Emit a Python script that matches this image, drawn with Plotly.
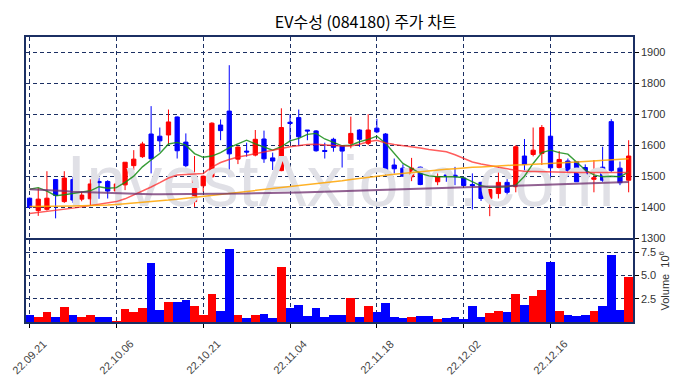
import plotly.graph_objects as go

dates = (
    ["2022-09-%02d" % d for d in [21, 22, 23, 26, 27, 28, 29, 30]]
    + ["2022-10-%02d" % d for d in [4, 5, 6, 7, 11, 12, 13, 14, 17, 18, 19, 20, 21, 24, 25, 26, 27, 28, 31]]
    + ["2022-11-%02d" % d for d in [1, 2, 3, 4, 7, 8, 9, 10, 11, 14, 15, 16, 17, 18, 21, 22, 23, 24, 25, 28, 29, 30]]
    + ["2022-12-%02d" % d for d in [1, 2, 5, 6, 7, 8, 9, 12, 13, 14, 15, 16, 19, 20, 21, 22, 23, 26, 27, 28, 29]]
)

opens = [1430, 1390, 1394, 1490, 1419, 1490, 1427, 1428, 1484, 1484,
         1453, 1473, 1535, 1564, 1637, 1630, 1634, 1692, 1611, 1419,
         1470, 1499, 1666, 1711, 1556, 1582, 1569, 1621, 1560, 1519,
         1675, 1690, 1650, 1647, 1584, 1620, 1598, 1607, 1650, 1607,
         1656, 1637, 1537, 1527, 1499, 1530, 1492, 1483, 1505, 1504,
         1495, 1474, 1481, 1429, 1445, 1481, 1467, 1566, 1571, 1574,
         1630, 1529, 1550, 1548, 1529, 1491, 1530, 1677, 1527, 1488]
highs = [1432, 1464, 1517, 1491, 1517, 1499, 1451, 1491, 1496, 1488,
         1483, 1546, 1585, 1612, 1727, 1658, 1716, 1694, 1639, 1566,
         1503, 1675, 1684, 1859, 1597, 1609, 1650, 1648, 1577, 1720,
         1700, 1716, 1650, 1650, 1609, 1625, 1600, 1693, 1652, 1701,
         1686, 1640, 1558, 1539, 1560, 1532, 1499, 1510, 1515, 1531,
         1497, 1510, 1483, 1460, 1531, 1494, 1601, 1621, 1658, 1666,
         1709, 1582, 1558, 1550, 1539, 1553, 1596, 1685, 1548, 1617]
lows = [1398, 1373, 1390, 1365, 1415, 1415, 1420, 1408, 1428, 1429,
        1450, 1456, 1520, 1560, 1510, 1580, 1603, 1558, 1530, 1402,
        1451, 1497, 1617, 1499, 1540, 1564, 1565, 1544, 1521, 1517,
        1610, 1598, 1617, 1580, 1558, 1580, 1529, 1591, 1596, 1601,
        1640, 1505, 1510, 1499, 1485, 1472, 1440, 1472, 1483, 1472,
        1470, 1394, 1421, 1372, 1429, 1432, 1449, 1510, 1565, 1537,
        1499, 1525, 1499, 1483, 1480, 1449, 1483, 1515, 1472, 1449]
closes = [1400, 1427, 1430, 1439, 1495, 1424, 1440, 1476, 1480, 1453,
          1476, 1546, 1556, 1605, 1557, 1615, 1676, 1583, 1535, 1501,
          1501, 1672, 1648, 1573, 1595, 1579, 1620, 1557, 1550, 1658,
          1671, 1628, 1647, 1583, 1581, 1594, 1582, 1639, 1620, 1650,
          1644, 1521, 1525, 1501, 1527, 1474, 1483, 1499, 1500, 1499,
          1471, 1471, 1429, 1458, 1481, 1449, 1596, 1539, 1585, 1658,
          1528, 1555, 1519, 1483, 1483, 1496, 1488, 1519, 1480, 1566]
volumes_m = [0.75, 0.60, 1.07, 0.60, 1.60, 0.75, 0.54, 0.75, 0.54, 0.60,
             0.18, 1.40, 1.10, 1.50, 6.43, 1.29, 2.14, 2.14, 2.46, 1.71,
             0.75, 3.00, 1.18, 7.93, 0.75, 0.43, 0.75, 0.86, 0.43, 6.00,
             1.50, 1.82, 0.64, 1.50, 0.54, 0.75, 0.75, 2.57, 0.54, 1.71,
             1.07, 2.04, 0.54, 0.43, 0.54, 0.64, 0.64, 0.32, 0.43, 0.54,
             0.32, 1.71, 0.54, 0.96, 1.18, 1.07, 3.00, 1.82, 2.79, 3.43,
             6.54, 1.18, 0.75, 0.64, 0.75, 1.18, 1.71, 7.29, 1.29, 4.93]
ma5 = [1459, 1464, 1453, 1438, 1441, 1446, 1451, 1454, 1467, 1462,
       1464, 1481, 1501, 1531, 1553, 1574, 1605, 1610, 1601, 1574,
       1562, 1566, 1577, 1593, 1605, 1617, 1605, 1594, 1585, 1596,
       1615, 1623, 1636, 1639, 1621, 1610, 1599, 1601, 1612, 1620,
       1630, 1607, 1574, 1542, 1526, 1510, 1502, 1499, 1499, 1499,
       1496, 1483, 1470, 1465, 1465, 1467, 1472, 1501, 1542, 1577,
       1585, 1577, 1572, 1545, 1521, 1505, 1499, 1501, 1499, 1515]
ma20 = [1381, 1384, 1387, 1391, 1395, 1398, 1402, 1406, 1410, 1414,
        1419, 1428, 1440, 1452, 1466, 1480, 1495, 1505, 1506, 1507,
        1510, 1530, 1545, 1555, 1563, 1568, 1573, 1578, 1584, 1590,
        1596, 1600, 1603, 1604, 1601, 1600, 1598, 1598, 1604, 1612,
        1617, 1608, 1603, 1600, 1597, 1592, 1587, 1583, 1580, 1570,
        1558, 1547, 1540, 1535, 1530, 1523, 1520, 1517, 1516, 1515,
        1515, 1514, 1513, 1513, 1513, 1513, 1513, 1513, 1513, 1513]
ma60 = [1403, 1403, 1404, 1404, 1405, 1405, 1406, 1406, 1407, 1408,
        1410, 1412, 1414, 1417, 1419, 1422, 1424, 1427, 1430, 1433,
        1436, 1439, 1442, 1445, 1448, 1451, 1454, 1457, 1460, 1463,
        1466, 1469, 1472, 1475, 1478, 1482, 1486, 1490, 1494, 1498,
        1502, 1504, 1507, 1510, 1512, 1515, 1518, 1520, 1523, 1525,
        1528, 1530, 1531, 1533, 1534, 1535, 1537, 1538, 1539, 1541,
        1542, 1544, 1545, 1547, 1549, 1550, 1552, 1554, 1555, 1557]
ma120 = [1459, 1458, 1456, 1455, 1453, 1451, 1450, 1449, 1448, 1446,
         1445, 1445, 1444, 1444, 1443, 1443, 1443, 1443, 1443, 1443,
         1444, 1444, 1444, 1445, 1445, 1445, 1446, 1446, 1447, 1447,
         1448, 1448, 1449, 1450, 1451, 1452, 1453, 1454, 1455, 1456,
         1457, 1457, 1458, 1459, 1460, 1461, 1462, 1463, 1464, 1465,
         1466, 1467, 1467, 1468, 1468, 1469, 1469, 1470, 1471, 1471,
         1472, 1473, 1474, 1475, 1476, 1477, 1478, 1479, 1480, 1482]
tick_dates = ["2022-09-21", "2022-10-06", "2022-10-21", "2022-11-04",
              "2022-11-18", "2022-12-02", "2022-12-16"]
price_ticks = [1300, 1400, 1500, 1600, 1700, 1800, 1900]
vol_ticks = [2.5, 5.0, 7.5]

UP = "#ff0000"
DOWN = "#0000ff"
NAVY = "#1b2f63"

x = list(range(len(dates)))
tickvals = [dates.index(d) for d in tick_dates]
ticktext = [d[2:].replace("-", ".") for d in tick_dates]
bar_colors = [UP if c > o else DOWN for o, c in zip(opens, closes)]

fig = go.Figure()

# watermark (behind candles)
fig.add_trace(go.Scatter(
    x=[35.8], y=[1462], mode="text", text=["InvestAxiom.com"],
    textfont=dict(family="Liberation Sans, Arial", size=72, color="#e0e0e6"),
    textposition="middle center", hoverinfo="skip", showlegend=False,
    xaxis="x", yaxis="y"))

fig.add_trace(go.Candlestick(
    x=x, open=opens, high=highs, low=lows, close=closes,
    increasing=dict(line=dict(color=UP, width=1), fillcolor=UP),
    decreasing=dict(line=dict(color=DOWN, width=1), fillcolor=DOWN),
    whiskerwidth=0, showlegend=False, xaxis="x", yaxis="y"))

for vals, col, w in [(ma5, "rgba(20,140,20,0.85)", 1.4),
                     (ma20, "rgba(255,30,30,0.72)", 1.5),
                     (ma60, "rgba(255,165,0,0.85)", 1.5),
                     (ma120, "rgba(110,45,110,0.75)", 2)]:
    fig.add_trace(go.Scatter(x=x, y=vals, mode="lines",
                             line=dict(color=col, width=w),
                             showlegend=False, hoverinfo="skip",
                             xaxis="x", yaxis="y"))

fig.add_trace(go.Bar(x=x, y=volumes_m, marker=dict(color=bar_colors, line=dict(width=0)),
                     width=1.0, showlegend=False, xaxis="x2", yaxis="y2"))

grid = dict(showgrid=True, gridcolor=NAVY, griddash="4px,3px", gridwidth=1)
frame = dict(showline=True, linecolor=NAVY, linewidth=1.5, mirror=True,
             zeroline=False, automargin=False)
xr = [-0.41, 69.5]
tickfont = dict(family="Liberation Sans, Arial", size=11, color="#333333")

# rotated date labels, centred on their ticks
date_labels = [dict(x=tv, y=-0.123, xref="x2", yref="paper", text=tt,
                    textangle=-45, showarrow=False, xanchor="center", yanchor="middle",
                    font=dict(family="Liberation Sans, Arial", size=11, color="#444444"))
               for tv, tt in zip(tickvals, ticktext)]

fig.update_layout(
    width=690, height=378,
    margin=dict(l=26, r=57, t=37, b=56, autoexpand=False),
    paper_bgcolor="white", plot_bgcolor="white",
    title=dict(text="EV수성 (084180) 주가 차트", x=0.53, xref="container",
               y=0.942, yref="container", xanchor="center", yanchor="middle",
               font=dict(family="Noto Sans CJK KR", size=16, color="#000000")),
    xaxis=dict(domain=[0, 1], range=xr, anchor="y", tickvals=tickvals,
               showticklabels=False, ticks="", rangeslider=dict(visible=False),
               **grid, **frame),
    xaxis2=dict(domain=[0, 1], range=xr, anchor="y2", matches="x",
                tickvals=tickvals, showticklabels=False,
                ticks="outside", ticklen=4, tickcolor="#000000",
                rangeslider=dict(visible=False), **grid, **frame),
    yaxis=dict(domain=[0.293, 1], range=[1300, 1950], side="right",
               tickvals=price_ticks, ticks="outside", ticklen=4, tickcolor="#000000",
               tickfont=tickfont, anchor="x", **grid, **frame),
    yaxis2=dict(domain=[0, 0.289], range=[0, 8.86], side="right",
                tickvals=vol_ticks, ticktext=["%.1f" % v for v in vol_ticks],
                ticks="outside", ticklen=4, tickcolor="#000000",
                tickfont=tickfont, anchor="x2",
                title=dict(text="Volume  10<sup>6</sup>", standoff=6,
                           font=dict(family="Liberation Sans, Arial", size=11, color="#333333")),
                **grid, **frame),
    bargap=0,
    annotations=date_labels,
)

fig.write_html("out.html", config={"displayModeBar": False},
               post_script="document.body.style.margin='0px';document.body.style.padding='0px';")
